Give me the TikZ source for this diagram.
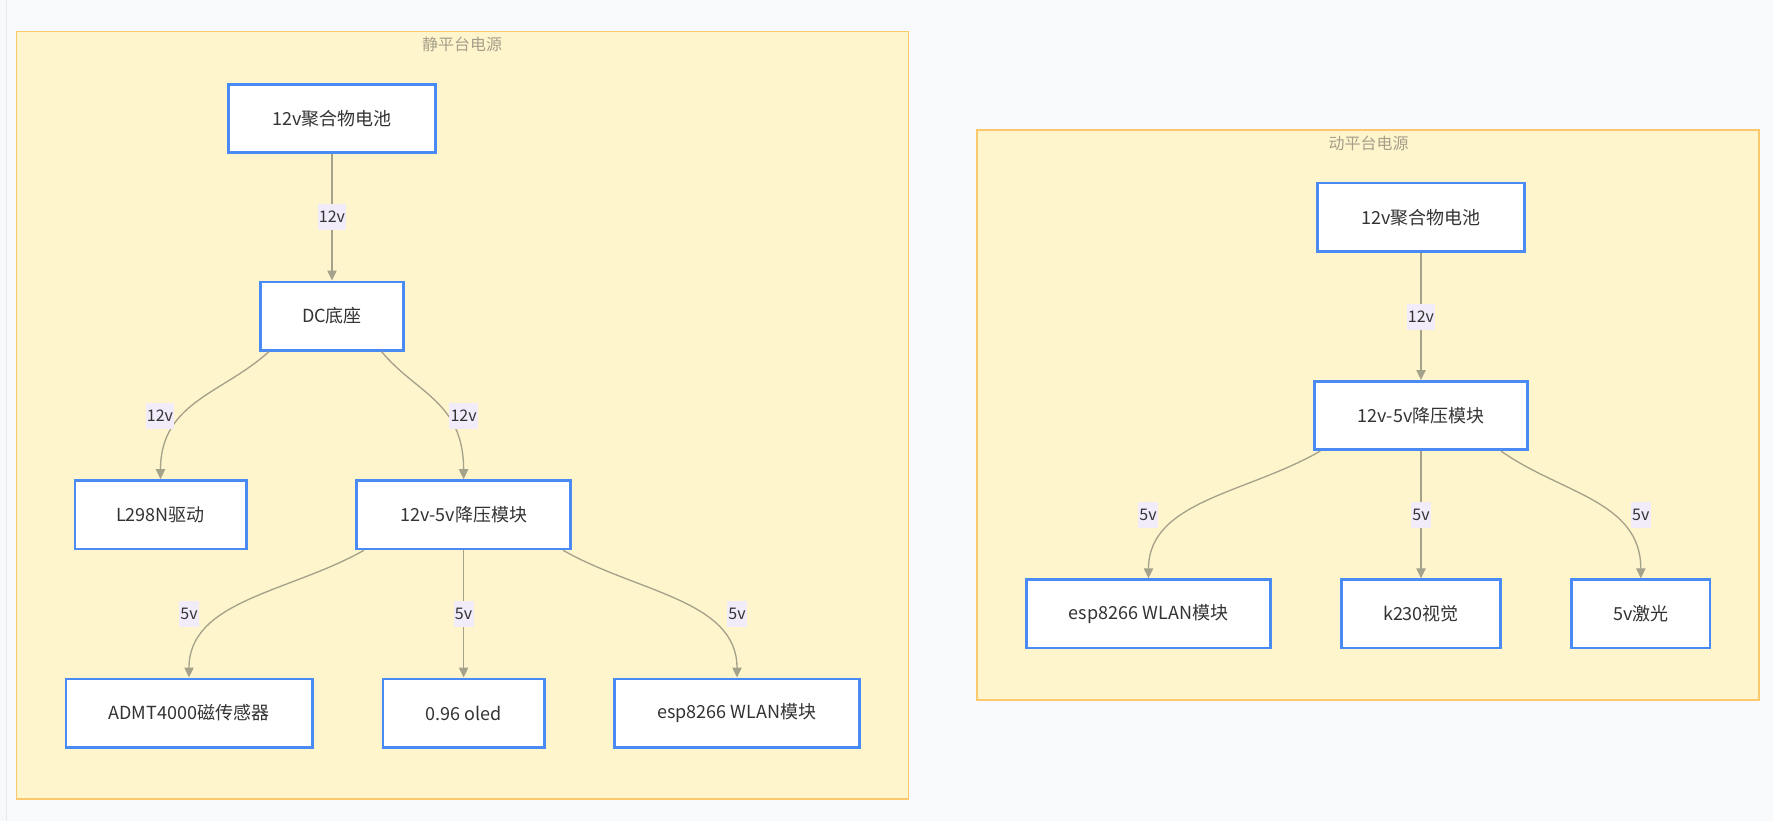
\documentclass[tikz,border=0pt]{standalone}
\usepackage{fontspec}
\setmainfont{Noto Sans CJK SC}
\usetikzlibrary{arrows.meta,calc}
\definecolor{bgc}{HTML}{F8F9FA}
\definecolor{clfill}{HTML}{FFF5CD}
\definecolor{clline}{HTML}{FBC96B}
\definecolor{nodeline}{HTML}{4A8AF4}
\definecolor{edgec}{HTML}{A5A28B}
\definecolor{lblbg}{HTML}{F1EBFA}
\definecolor{txt}{HTML}{333333}
\definecolor{ttl}{HTML}{A59F8A}
\definecolor{pageline}{HTML}{E6E8EA}
\begin{document}
\begin{tikzpicture}[x=0.75pt,y=-0.75pt,
  box/.style={draw=nodeline, line width=2pt, fill=white, minimum height=51.25pt, inner sep=0pt, font=\fontsize{13.5}{16}\selectfont, text=txt},
  cluster/.style={draw=clline, line width=1.1pt, fill=clfill, inner sep=0pt},
  ctitle/.style={font=\fontsize{12}{14}\selectfont, text=ttl, inner sep=0pt},
  edge/.style={draw=edgec, line width=1pt, -{Triangle[length=7.5pt,width=7pt]}},
  lbl/.style={fill=lblbg, text=txt, font=\fontsize{12}{14}\selectfont, inner xsep=1pt, inner ysep=0pt, minimum height=19.5pt}
]
\fill[bgc] (0,0) rectangle (1773,821);
\useasboundingbox (0,0) rectangle (1773,821);
\draw[pageline, line width=0.75pt] (6,0) -- (6,821);

% clusters
\node[cluster, minimum width=669pt, minimum height=575.5pt] (c1) at (462.4,415.35) {};
\node[cluster, minimum width=586.5pt, minimum height=427.5pt] (c2) at (1368,415) {};
\node[ctitle] (t1) at (462,44) {静平台电源};
\node[ctitle] (t2) at (1368.6,143) {动平台电源};

% left nodes
\node[box, minimum width=155.5pt] (bat1) at (332,118.5) {12v聚合物电池};
\node[box, minimum width=107.5pt] (dc) at (332,316) {DC底座};
\node[box, minimum width=128.5pt] (l298) at (160.5,514.7) {L298N驱动};
\node[box, minimum width=160.75pt] (buck1) at (463.6,514.7) {12v-5v降压模块};
\node[box, minimum width=184.75pt] (admt) at (189,713) {ADMT4000磁传感器};
\node[box, minimum width=121pt] (oled) at (463.6,713) {0.96 oled};
\node[box, minimum width=184pt] (esp1) at (737,713) {esp8266 WLAN模块};

% right nodes
\node[box, minimum width=155pt] (bat2) at (1421,217.3) {12v聚合物电池};
\node[box, minimum width=160pt] (buck2) at (1421,415.5) {12v-5v降压模块};
\node[box, minimum width=183.25pt] (esp2) at (1148.5,613.8) {esp8266 WLAN模块};
\node[box, minimum width=119.5pt] (k230) at (1421,613.8) {k230视觉};
\node[box, minimum width=103.75pt] (laser) at (1640.8,613.8) {5v激光};

% left edges
\draw[edge] (bat1.south) -- (dc.north);
\draw[edge] ($(dc.south)+(-63,0)$) .. controls ($(dc.south)+(-108.6,41.9)$) and ($(l298.north)+(0,-77.5)$) .. (l298.north);
\draw[edge] ($(dc.south)+(49.5,0)$) .. controls ($(dc.south)+(84,41.9)$) and ($(buck1.north)+(0,-77.5)$) .. (buck1.north);
\draw[edge] ($(buck1.south)+(-99.6,0)$) .. controls ($(buck1.south)+(-173.1,41.9)$) and ($(admt.north)+(0,-77.5)$) .. (admt.north);
\draw[edge] (buck1.south) -- (oled.north);
\draw[edge] ($(buck1.south)+(99.4,0)$) .. controls ($(buck1.south)+(172.4,41.9)$) and ($(esp1.north)+(0,-77.5)$) .. (esp1.north);

% right edges
\draw[edge] (bat2.south) -- (buck2.north);
\draw[edge] ($(buck2.south)+(-100.7,0)$) .. controls ($(buck2.south)+(-172.7,42)$) and ($(esp2.north)+(0,-77.7)$) .. (esp2.north);
\draw[edge] (buck2.south) -- (k230.north);
\draw[edge] ($(buck2.south)+(80,0)$) .. controls ($(buck2.south)+(138.8,42)$) and ($(laser.north)+(0,-77.7)$) .. (laser.north);

% edge labels
\node[lbl] (e1) at (332,217) {12v};
\node[lbl] (e2) at (160,415.7) {12v};
\node[lbl] (e3) at (463.6,415.7) {12v};
\node[lbl] (e4) at (189,614) {5v};
\node[lbl] (e5) at (463.6,614) {5v};
\node[lbl] (e6) at (737,614) {5v};
\node[lbl] (e7) at (1421,316.6) {12v};
\node[lbl] (e8) at (1148,515) {5v};
\node[lbl] (e9) at (1421,515) {5v};
\node[lbl] (e10) at (1640.8,515) {5v};
\end{tikzpicture}
\end{document}
